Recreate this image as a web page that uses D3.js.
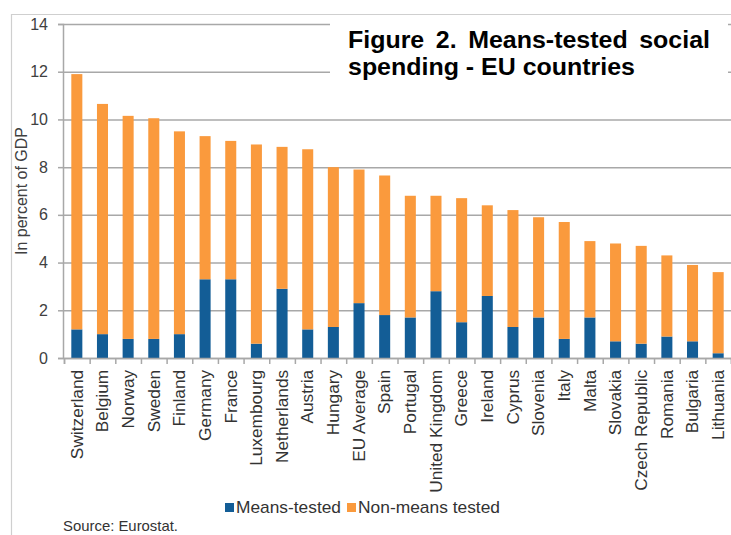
<!DOCTYPE html>
<html>
<head>
<meta charset="utf-8">
<script src="https://cdn.jsdelivr.net/npm/d3@7"></script>
<style>
  body { margin: 0; background: #fff; }
  svg { display: block; font-family: "Liberation Sans", Arial, sans-serif; }
</style>
</head>
<body>
<svg width="731" height="535"></svg>
<script>
// Data (percent of GDP)
const countries = ["Switzerland", "Belgium", "Norway", "Sweden", "Finland", "Germany", "France",
    "Luxembourg", "Netherlands", "Austria", "Hungary", "EU Average", "Spain", "Portugal",
    "United Kingdom", "Greece", "Ireland", "Cyprus", "Slovenia", "Italy", "Malta", "Slovakia",
    "Czech Republic", "Romania", "Bulgaria", "Lithuania"];
const meansTested = [1.2, 1.0, 0.8, 0.8, 1.0, 3.3, 3.3, 0.6, 2.9, 1.2, 1.3, 2.3, 1.8, 1.7,
    2.8, 1.5, 2.6, 1.3, 1.7, 0.8, 1.7, 0.7, 0.6, 0.9, 0.7, 0.2];
const nonMeansTested = [10.7, 9.65, 9.35, 9.25, 8.5, 6.0, 5.8, 8.35, 5.95, 7.55, 6.7, 5.6, 5.85, 5.1,
    4.0, 5.2, 3.8, 4.9, 4.2, 4.9, 3.2, 4.1, 4.1, 3.4, 3.2, 3.4];
const seriesNames = ["Means-tested", "Non-means tested"];
const seriesColors = ["#135d96", "#fa9a3d"];
const yTicks = [0, 2, 4, 6, 8, 10, 12, 14];

// Plot area
const plotLeft = 64, plotRight = 731, plotTop = 24, plotBottom = 358;

const svg = d3.select("svg");

// Outer frame (left and top edges)
svg.append("path")
    .attr("d", "M11.5,535 V14.5 H731")
    .attr("fill", "none")
    .attr("stroke", "#cfcfcf")
    .attr("stroke-width", 1.2);

// Scales
const x = d3.scaleBand()
    .domain(countries)
    .range([plotLeft, plotRight])
    .paddingInner(0.57)
    .paddingOuter(0.285);

const xEdge = d3.scaleLinear()
    .domain([0, countries.length])
    .range([plotLeft, plotRight]);

const y = d3.scaleLinear()
    .domain([0, 14])
    .range([plotBottom, plotTop]);

// Gridlines
svg.append("g")
    .attr("class", "grid")
    .attr("transform", `translate(${plotLeft - 1}, 0)`)
    .call(d3.axisLeft(y).tickValues(yTicks).tickSize(-(plotRight - plotLeft + 1)).tickFormat(""))
    .call(g => g.select(".domain").remove())
    .call(g => g.selectAll("line").attr("stroke", "#a8a8a8").attr("stroke-width", 1.5));

// Y axis
svg.append("g")
    .attr("class", "y-axis")
    .attr("transform", `translate(${plotLeft - 1}, 0)`)
    .call(d3.axisLeft(y).tickValues(yTicks).tickSize(5).tickPadding(10))
    .call(g => g.select(".domain").attr("stroke", "#a8a8a8").attr("stroke-width", 1.5))
    .call(g => g.selectAll("line").attr("stroke", "#a8a8a8").attr("stroke-width", 1.5))
    .call(g => g.selectAll("text")
        .attr("font-size", "16px")
        .attr("font-family", "Liberation Sans, Arial, sans-serif")
        .attr("fill", "#404040"));

// Stacked bars
const rows = countries.map((c, i) => ({ country: c, m: meansTested[i], n: nonMeansTested[i] }));
const stacked = d3.stack().keys(["m", "n"])(rows);

svg.append("g")
    .selectAll("g")
    .data(stacked)
    .join("g")
    .attr("fill", (d, i) => seriesColors[i])
    .selectAll("rect")
    .data(d => d)
    .join("rect")
    .attr("x", d => x(d.data.country))
    .attr("y", d => y(d[1]))
    .attr("width", x.bandwidth())
    .attr("height", d => y(d[0]) - y(d[1]));

// X axis line and boundary ticks
svg.append("g")
    .attr("class", "x-ticks")
    .attr("transform", `translate(0, ${plotBottom})`)
    .call(d3.axisBottom(xEdge).tickValues(d3.range(countries.length + 1)).tickSize(6).tickFormat(""))
    .call(g => g.select(".domain").attr("stroke", "#a8a8a8").attr("stroke-width", 1.5))
    .call(g => g.selectAll("line").attr("stroke", "#a8a8a8").attr("stroke-width", 1.5));

// X labels (slightly stretched along the text, as in the original)
svg.append("g")
    .attr("class", "x-axis")
    .attr("transform", `translate(0, ${plotBottom})`)
    .call(d3.axisBottom(x).tickSize(0))
    .call(g => g.select(".domain").remove())
    .call(g => g.selectAll("text")
        .attr("transform", "rotate(-90) scale(1.08, 1)")
        .attr("text-anchor", "end")
        .attr("x", -11)
        .attr("y", 0)
        .attr("dy", "0.36em")
        .attr("font-size", "16px")
        .attr("font-family", "Liberation Sans, Arial, sans-serif")
        .attr("fill", "#333"));

// Y axis title
svg.append("text")
    .attr("transform", "translate(27, 191) rotate(-90)")
    .attr("text-anchor", "middle")
    .attr("font-size", "16px")
    .attr("fill", "#404040")
    .text("In percent of GDP");

// Title box
svg.append("rect")
    .attr("x", 330)
    .attr("y", 16)
    .attr("width", 398)
    .attr("height", 90)
    .attr("fill", "#fff");

const title = svg.append("g")
    .attr("font-size", "23px")
    .attr("font-weight", "bold")
    .attr("fill", "#000");

const line2 = title.append("text")
    .attr("x", 348)
    .attr("y", 75)
    .text("spending - EU countries");
const sx = 287 / line2.node().getComputedTextLength();
line2.attr("textLength", 287).attr("lengthAdjust", "spacingAndGlyphs");

// First line justified between 348 and 710
const words = ["Figure", "2.", "Means-tested", "social"];
const wordNodes = words.map(w => title.append("text").attr("y", 48).text(w));
const widths = wordNodes.map(n => n.node().getComputedTextLength() * sx);
const gap = (710 - 348 - d3.sum(widths)) / (words.length - 1);
let cx = 348;
wordNodes.forEach((n, i) => {
    n.attr("x", cx).attr("textLength", widths[i]).attr("lengthAdjust", "spacingAndGlyphs");
    cx += widths[i] + gap;
});

// Legend
const legendX = [225, 347];
const legendLen = [105, 142];
const legend = svg.append("g")
    .selectAll("g")
    .data(seriesNames)
    .join("g")
    .attr("transform", (d, i) => `translate(${legendX[i]}, 502)`);

legend.append("rect")
    .attr("width", 9)
    .attr("height", 9)
    .attr("y", 1)
    .attr("fill", (d, i) => seriesColors[i]);

legend.append("text")
    .attr("x", 11)
    .attr("y", 11)
    .attr("font-size", "17px")
    .attr("fill", "#333")
    .attr("textLength", (d, i) => legendLen[i])
    .attr("lengthAdjust", "spacingAndGlyphs")
    .text(d => d);

// Source note
svg.append("text")
    .attr("x", 63)
    .attr("y", 531)
    .attr("font-size", "15px")
    .attr("fill", "#333")
    .attr("textLength", 115)
    .attr("lengthAdjust", "spacingAndGlyphs")
    .text("Source: Eurostat.");
</script>
</body>
</html>
